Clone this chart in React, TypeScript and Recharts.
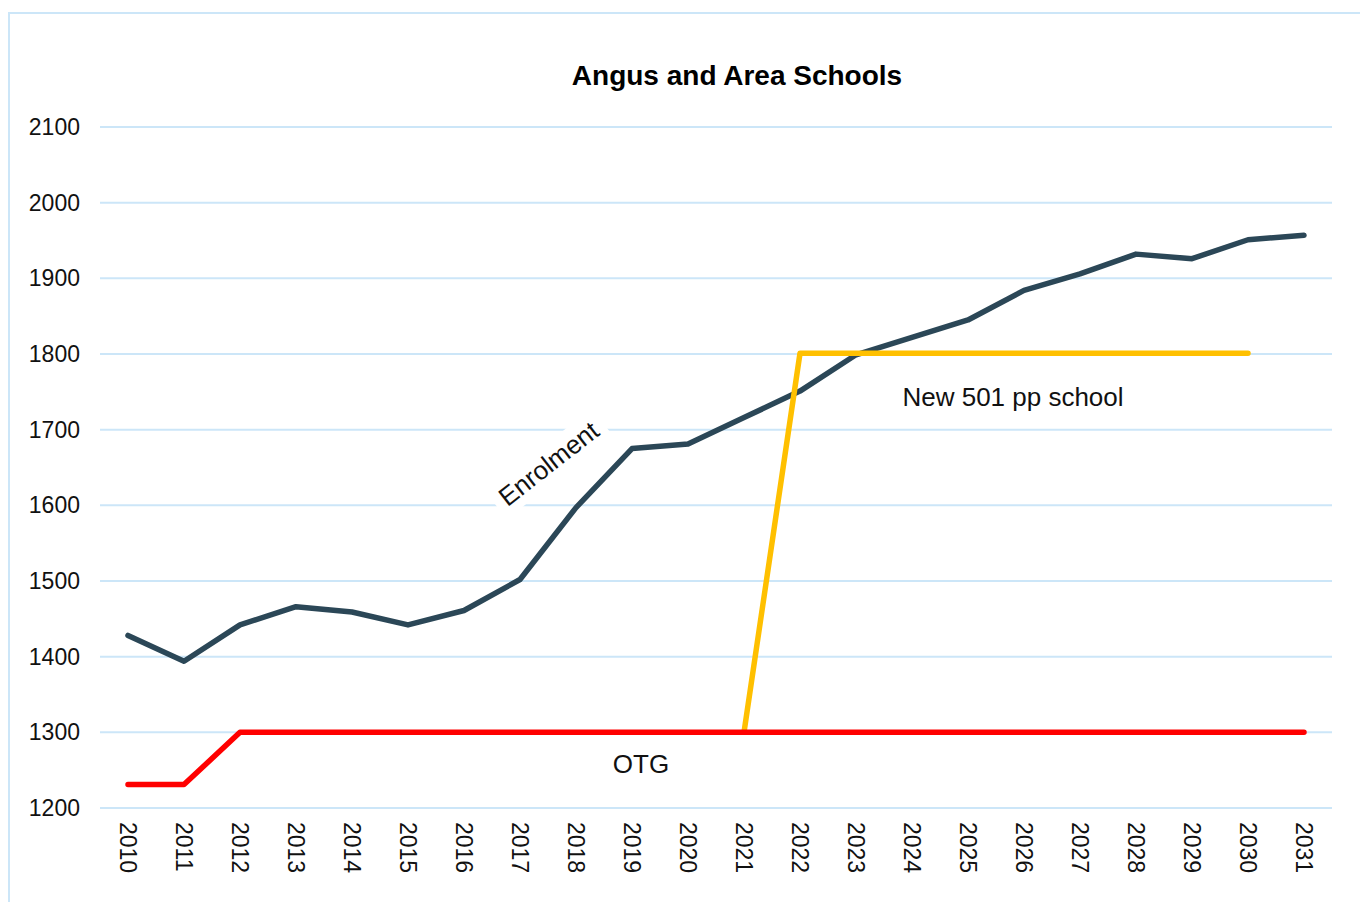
import { CartesianGrid, Line, LineChart, XAxis, YAxis } from "recharts"

const years = [
  "2010", "2011", "2012", "2013", "2014", "2015", "2016", "2017", "2018", "2019", "2020",
  "2021", "2022", "2023", "2024", "2025", "2026", "2027", "2028", "2029", "2030", "2031",
]

const enrolment = [
  1428, 1394, 1442, 1466, 1459, 1442, 1461, 1502, 1597, 1675, 1681,
  1716, 1751, 1799, 1822, 1845, 1884, 1906, 1932, 1926, 1951, 1957,
]

const otg = [
  1231, 1231, 1300, 1300, 1300, 1300, 1300, 1300, 1300, 1300, 1300,
  1300, 1300, 1300, 1300, 1300, 1300, 1300, 1300, 1300, 1300, 1300,
]

const newSchool: (number | null)[] = [
  null, null, null, null, null, null, null, null, null, null, null,
  1300, 1801, 1801, 1801, 1801, 1801, 1801, 1801, 1801, 1801, null,
]

const yTicks = [1200, 1300, 1400, 1500, 1600, 1700, 1800, 1900, 2000, 2100]

const data = years.map((year, i) => ({
  year,
  enrolment: enrolment[i],
  otg: otg[i],
  newSchool: newSchool[i],
}))

const FONT = "'Liberation Sans', Arial, sans-serif"
const GRID = "#cce6f8"
const TEXT = "#111"

function YearTick({ x, y, payload }: { x?: number; y?: number; payload?: { value: string } }) {
  return (
    <text
      transform={`translate(${x},${(y ?? 0) + 14}) rotate(90)`}
      textAnchor="start"
      dominantBaseline="central"
      fontSize={23}
      fontFamily={FONT}
      fill={TEXT}
    >
      {payload?.value}
    </text>
  )
}

export default function App() {
  return (
    <div
      style={{
        position: "absolute",
        left: 0,
        top: 0,
        width: 1360,
        height: 902,
        background: "#fff",
        overflow: "hidden",
        fontFamily: FONT,
      }}
    >
      <div
        style={{
          position: "absolute",
          left: 8,
          top: 12,
          width: 1400,
          height: 1000,
          borderLeft: `2px solid ${GRID}`,
          borderTop: `2px solid ${GRID}`,
        }}
      />
      <LineChart
        width={1360}
        height={902}
        data={data}
        margin={{ top: 127, right: 28, bottom: 24, left: 8 }}
        style={{ position: "absolute", left: 0, top: 0 }}
      >
        <CartesianGrid stroke={GRID} strokeWidth={2} vertical={false} />
        <XAxis
          dataKey="year"
          padding={{ left: 28, right: 28 }}
          axisLine={false}
          tickLine={false}
          tickSize={0}
          tickMargin={0}
          height={70}
          interval={0}
          tick={<YearTick />}
        />
        <YAxis
          domain={[1200, 2100]}
          ticks={yTicks}
          width={92}
          axisLine={false}
          tickLine={false}
          tickSize={0}
          tickMargin={20}
          tick={{ fontSize: 23, fill: TEXT, fontFamily: FONT }}
        />
        <Line
          type="linear"
          dataKey="enrolment"
          stroke="#2b4757"
          strokeWidth={5.5}
          strokeLinecap="round"
          strokeLinejoin="round"
          dot={false}
          isAnimationActive={false}
        />
        <Line
          type="linear"
          dataKey="newSchool"
          stroke="#ffc000"
          strokeWidth={5.5}
          strokeLinecap="round"
          strokeLinejoin="round"
          dot={false}
          isAnimationActive={false}
        />
        <Line
          type="linear"
          dataKey="otg"
          stroke="#ff0000"
          strokeWidth={5.5}
          strokeLinecap="round"
          strokeLinejoin="round"
          dot={false}
          isAnimationActive={false}
        />
      </LineChart>
      <div
        style={{
          position: "absolute",
          left: 737,
          top: 76,
          transform: "translate(-50%, -50%)",
          fontSize: 28,
          fontWeight: "bold",
          whiteSpace: "nowrap",
          color: "#000",
        }}
      >
        Angus and Area Schools
      </div>
      <div
        style={{
          position: "absolute",
          left: 549,
          top: 464,
          transform: "translate(-50%, -50%) rotate(-38deg)",
          fontSize: 26,
          background: "#fff",
          padding: "2px 8px",
          whiteSpace: "nowrap",
          color: TEXT,
        }}
      >
        Enrolment
      </div>
      <div
        style={{
          position: "absolute",
          left: 1013,
          top: 397,
          transform: "translate(-50%, -50%)",
          fontSize: 26,
          whiteSpace: "nowrap",
          color: TEXT,
        }}
      >
        New 501 pp school
      </div>
      <div
        style={{
          position: "absolute",
          left: 641,
          top: 764,
          transform: "translate(-50%, -50%)",
          fontSize: 26,
          whiteSpace: "nowrap",
          color: TEXT,
        }}
      >
        OTG
      </div>
    </div>
  )
}
